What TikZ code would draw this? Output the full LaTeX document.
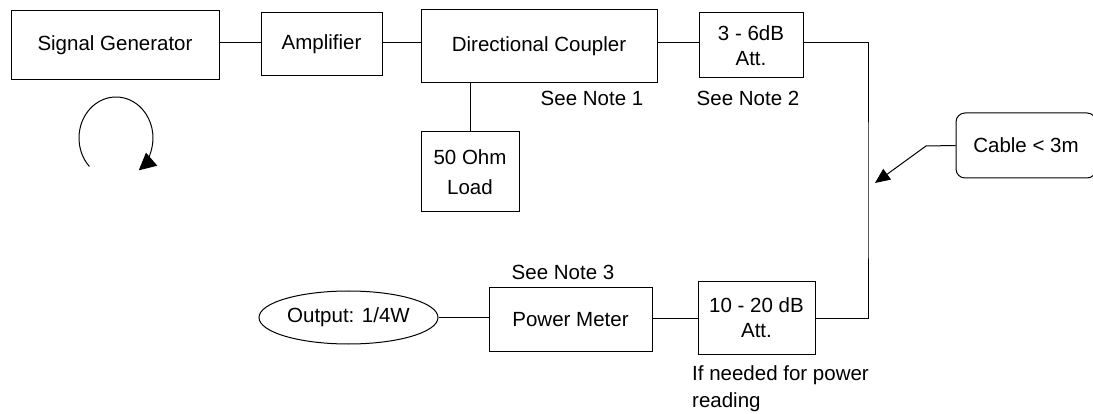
\documentclass[tikz,border=0pt]{standalone}
\usepackage{fontspec}
\setmainfont{Liberation Sans}
\usetikzlibrary{arrows.meta,shapes.geometric}
\begin{document}
\begin{tikzpicture}[x=1pt,y=-1pt,
  every node/.style={font=\fontsize{20.5}{25}\selectfont, inner sep=0pt},
  box/.style={draw, line width=1pt, rectangle, align=center},
  conn/.style={line width=1pt},
  tri/.style={-{Triangle[length=15pt,width=13pt]}}]
\useasboundingbox (0,0) rectangle (1093,414);
% top row
\node[box, minimum width=208, minimum height=69] (sg) at (115,45.5) {Signal Generator};
\node[box, minimum width=121, minimum height=63] (amp) at (321.5,44.5) {Amplifier};
\node[box, minimum width=236, minimum height=73] (dc) at (539,46.5) {Directional Coupler};
\node[box, minimum width=98, minimum height=80] (load) at (470,172) {50 Ohm\\[5pt]Load};
\node[box, minimum width=104, minimum height=65] (att1) at (751,45.5) {3 - 6dB\\Att.};
\node (n1) at (592,98) {See Note 1};
\node (n2) at (748,98) {See Note 2};
% cable
\node[draw, line width=1pt, rounded corners=9pt, minimum width=140, minimum height=65] (cable) at (1026,145.5) {Cable < 3m};
% bottom row
\node[draw, line width=1pt, ellipse, minimum width=179, minimum height=53] (out) at (348.5,317.5) {Output: 1/4W};
\node[box, minimum width=163, minimum height=63] (pm) at (570.5,319.5) {Power Meter};
\node[box, minimum width=117, minimum height=72] (att2) at (756.5,318) {10 - 20 dB\\Att.};
\node (n3) at (563,272) {See Note 3};
\node[anchor=west, align=left, font=\fontsize{20.5}{27}\selectfont] (n4) at (692,388.5) {If needed for power\\reading};
% connectors
\coordinate (row) at (0,43);
\draw[conn] (sg.east |- row) -- (amp.west |- row);
\draw[conn] (amp.east |- row) -- (dc.west |- row);
\draw[conn] (dc.east |- row) -- (att1.west |- row);
\draw[conn] (load.north |- dc.south) -- (load.north);
\coordinate (r) at (868,200);
\draw[conn] (att1.east |- row) -| (r) |- (att2.east);
\draw[conn] (att2.west) -- (att2.west -| pm.east);
\draw[conn] (out.east) -- (out.east -| pm.west);
\coordinate (k) at (926,146);
\coordinate (tip) at (875,183);
\draw[conn, tri] (cable.west) -- (k) -- (tip);
% rotation arrow
\draw[conn, -{Triangle[length=17pt,width=17pt]}] (116,138) ++(136:37 and 41) arc[start angle=136, end angle=412, x radius=37, y radius=41];
\end{tikzpicture}
\end{document}
